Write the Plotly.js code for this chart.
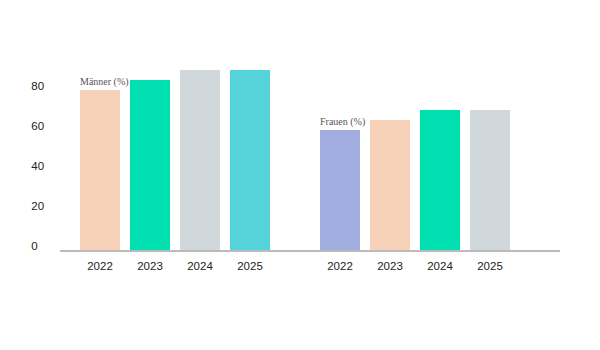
<!DOCTYPE html>
<html>
<head>
<meta charset="utf-8">
<script src="https://cdn.plot.ly/plotly-3.0.1.min.js"></script>
<style>html,body{margin:0;padding:0;background:#fff}#chart{width:600px;height:350px}</style>
</head>
<body>
<div id="chart"></div>
<script>
const years = ["2022", "2023", "2024", "2025"];
const groups = ["Männer (%)", "Frauen (%)"];
const maenner = [80, 85, 90, 90];
const frauen = [60, 65, 70, 70];
const yTicks = [0, 20, 40, 60, 80];
const maennerColors = ["#F8D1B9", "#00E0B0", "#D0D8DB", "#55D3DB"];
const frauenColors = ["#A3AEE0", "#F8D1B9", "#00E0B0", "#D0D8DB"];

const groupOffset = 4.8;
const barWidth = 0.8;
const series = [maenner, frauen];
const colors = [maennerColors, frauenColors];

const traces = [];
const annotations = [];
const tickvals = [];
const ticktext = [];
series.forEach((vals, g) => {
  const xs = years.map((_, i) => g * groupOffset + i);
  xs.forEach((x, i) => { tickvals.push(x); ticktext.push(years[i]); });
  traces.push({
    type: 'bar',
    x: xs,
    y: vals,
    width: barWidth,
    marker: {color: colors[g]},
    name: groups[g],
    hoverinfo: 'y',
    showlegend: false
  });
  annotations.push({
    x: xs[0] - barWidth / 2,
    y: vals[0],
    xref: 'x', yref: 'y',
    text: groups[g],
    showarrow: false,
    xanchor: 'left',
    yanchor: 'bottom',
    xshift: -2,
    yshift: 0,
    font: {family: 'Liberation Serif, serif', size: 10, color: '#555'}
  });
});

const tickFont = {family: 'Liberation Sans, Arial, sans-serif', size: 11.5, color: '#222'};

const layout = {
  width: 600, height: 350,
  margin: {l: 20, r: 40, t: 50, b: 100},
  paper_bgcolor: '#fff', plot_bgcolor: '#fff',
  font: tickFont,
  showlegend: false,
  xaxis: {
    domain: [40 / 540, 1],
    range: [-0.8, 9.2],
    tickvals: tickvals,
    ticktext: ticktext,
    showgrid: false,
    zeroline: false,
    showline: true,
    linecolor: '#bbb',
    linewidth: 2,
    ticks: '',
    ticklabelstandoff: 4,
    tickfont: tickFont
  },
  yaxis: {
    range: [0, 100],
    tickvals: yTicks,
    side: 'right',
    anchor: 'free',
    position: 0,
    showgrid: false,
    zeroline: false,
    showline: false,
    ticks: 'outside',
    ticklen: 8,
    tickcolor: 'rgba(0,0,0,0)',
    ticklabelshift: -4,
    tickfont: tickFont
  },
  annotations: annotations
};

Plotly.newPlot('chart', traces, layout, {displayModeBar: false, staticPlot: true});
</script>
</body>
</html>
